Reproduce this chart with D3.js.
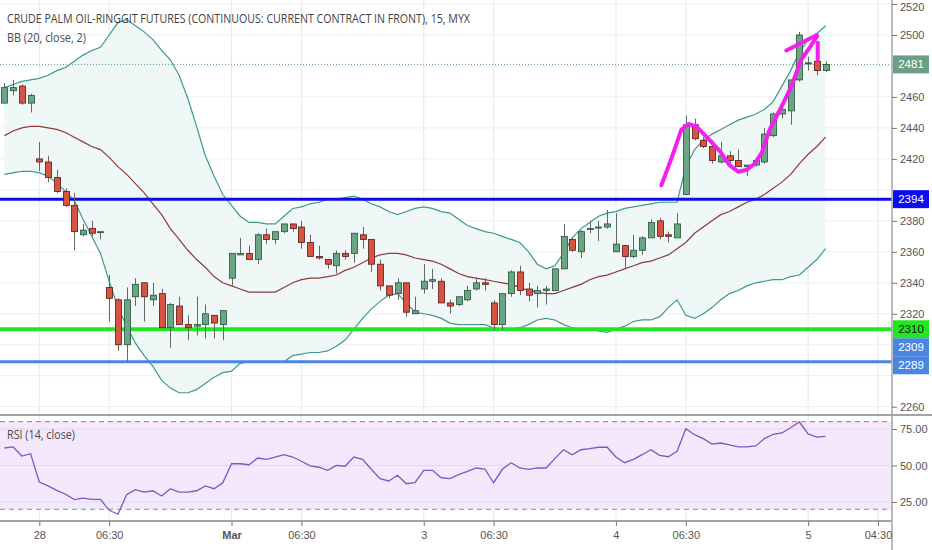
<!DOCTYPE html>
<html>
<head>
<meta charset="utf-8">
<script src="https://cdnjs.cloudflare.com/ajax/libs/d3/7.8.5/d3.min.js"></script>
<style>
  body { margin: 0; background: #fff; }
  svg { display: block; font-family: "Liberation Sans", Arial, sans-serif; }
</style>
</head>
<body>
<div id="chart"></div>
<script>
// 15 minute bars, oldest first (bar index 0..94)
var open  = [2456, 2464, 2467, 2456, 2420, 2418, 2408, 2399, 2390, 2371, 2375, 2373, 2337, 2329, 2300, 2331, 2340, 2329, 2333, 2311,
             2325, 2313, 2312, 2313, 2319, 2313, 2343, 2358, 2359, 2355, 2371, 2368, 2373, 2378, 2376, 2366, 2357, 2355, 2351, 2359,
             2359, 2371, 2368, 2352, 2338, 2333, 2340, 2320, 2336, 2341, 2341, 2327, 2326, 2329, 2336, 2340, 2327, 2313, 2333, 2347,
             2336, 2333, 2335, 2335, 2349, 2368, 2360, 2375, 2376, 2376, 2360, 2364, 2357, 2361, 2369, 2380, 2371, 2369, 2397, 2442,
             2432, 2428, 2418, 2422, 2419, 2415, 2416, 2418, 2435, 2449, 2451, 2471, 2482, 2483, 2477];
var high  = [2469, 2471, 2468, 2462, 2431, 2422, 2413, 2401, 2398, 2378, 2380, 2373, 2345, 2330, 2337, 2343, 2340, 2340, 2336, 2327,
             2331, 2319, 2331, 2326, 2319, 2322, 2359, 2369, 2364, 2372, 2375, 2373, 2378, 2378, 2380, 2371, 2364, 2355, 2361, 2361,
             2372, 2376, 2368, 2355, 2338, 2343, 2340, 2331, 2352, 2349, 2343, 2329, 2331, 2338, 2343, 2343, 2329, 2333, 2348, 2351,
             2340, 2338, 2338, 2349, 2378, 2369, 2374, 2380, 2380, 2387, 2385, 2364, 2371, 2370, 2381, 2382, 2373, 2385, 2448, 2446,
             2434, 2432, 2431, 2425, 2426, 2416, 2421, 2440, 2450, 2456, 2471, 2502, 2486, 2484, 2483];
var low   = [2456, 2461, 2455, 2450, 2412, 2405, 2398, 2389, 2361, 2370, 2370, 2368, 2315, 2296, 2289, 2325, 2315, 2325, 2311, 2298,
             2313, 2303, 2306, 2304, 2304, 2303, 2338, 2358, 2355, 2352, 2365, 2365, 2372, 2373, 2362, 2357, 2355, 2349, 2346, 2355,
             2353, 2362, 2347, 2335, 2330, 2329, 2318, 2320, 2333, 2336, 2327, 2320, 2325, 2328, 2335, 2335, 2309, 2309, 2331, 2332,
             2328, 2324, 2326, 2335, 2349, 2360, 2356, 2372, 2367, 2375, 2360, 2349, 2356, 2358, 2369, 2368, 2366, 2369, 2397, 2432,
             2427, 2417, 2417, 2417, 2415, 2409, 2415, 2417, 2434, 2446, 2442, 2470, 2477, 2474, 2476];
var close = [2466, 2466, 2456, 2461, 2418, 2408, 2399, 2390, 2373, 2374, 2372, 2373, 2330, 2300, 2329, 2339, 2331, 2332, 2311, 2326,
             2313, 2311, 2313, 2320, 2314, 2322, 2359, 2359, 2355, 2371, 2368, 2373, 2378, 2375, 2366, 2357, 2356, 2352, 2359, 2357,
             2372, 2368, 2352, 2338, 2332, 2340, 2321, 2322, 2341, 2342, 2327, 2325, 2331, 2335, 2340, 2339, 2313, 2333, 2347, 2335,
             2332, 2335, 2336, 2349, 2370, 2361, 2373, 2375, 2376, 2378, 2365, 2357, 2361, 2369, 2379, 2370, 2370, 2378, 2442, 2433,
             2428, 2419, 2422, 2419, 2415, 2416, 2419, 2436, 2449, 2452, 2471, 2500, 2482, 2477, 2481];

// bollinger bands (20, close, 2)
var bbUpper = [2466, 2468, 2470, 2471, 2472, 2474, 2477, 2479, 2483, 2487, 2490, 2492, 2500, 2508, 2510, 2506, 2502, 2497, 2490, 2484,
               2474, 2459, 2441, 2422, 2409, 2397, 2390, 2383, 2379, 2379, 2378, 2378, 2383, 2388, 2389, 2391, 2392, 2394, 2394, 2395,
               2396, 2394, 2391, 2389, 2386, 2384, 2386, 2388, 2389, 2388, 2386, 2385, 2381, 2377, 2375, 2373, 2372, 2370, 2368, 2366,
               2360, 2352, 2349, 2351, 2359, 2369, 2375, 2379, 2383, 2385, 2386, 2388, 2389, 2390, 2391, 2392, 2392, 2392, 2415, 2426,
               2432, 2436, 2439, 2442, 2445, 2447, 2449, 2452, 2457, 2467, 2477, 2489, 2497, 2501, 2506];
var bbBasis = [2435, 2438, 2440, 2441, 2441, 2440, 2439, 2437, 2434, 2431, 2428, 2426, 2421, 2415, 2410, 2404, 2398, 2391, 2384, 2375,
               2368, 2361, 2355, 2350, 2344, 2340, 2338, 2336, 2334, 2334, 2334, 2334, 2337, 2340, 2342, 2343, 2343, 2344, 2345, 2348,
               2350, 2353, 2356, 2358, 2359, 2359, 2358, 2356, 2355, 2354, 2352, 2349, 2346, 2344, 2343, 2342, 2341, 2340, 2339, 2337,
               2335, 2334, 2333, 2333, 2335, 2337, 2339, 2342, 2344, 2345, 2347, 2349, 2351, 2353, 2354, 2356, 2358, 2362, 2366, 2372,
               2376, 2380, 2384, 2386, 2389, 2392, 2394, 2397, 2401, 2405, 2410, 2417, 2423, 2428, 2434];
var bbLower = [2410, 2411, 2412, 2412, 2411, 2409, 2404, 2399, 2393, 2381, 2370, 2359, 2341, 2324, 2312, 2301, 2293, 2286, 2277, 2272,
               2269, 2269, 2271, 2275, 2279, 2282, 2283, 2288, 2289, 2289, 2289, 2289, 2289, 2293, 2294, 2295, 2295, 2296, 2299, 2303,
               2310, 2317, 2323, 2328, 2332, 2333, 2327, 2321, 2320, 2319, 2317, 2314, 2313, 2313, 2313, 2313, 2311, 2310, 2310, 2311,
               2313, 2316, 2317, 2316, 2313, 2311, 2310, 2310, 2309, 2308, 2310, 2312, 2315, 2316, 2316, 2318, 2324, 2329, 2319, 2317,
               2320, 2324, 2329, 2333, 2335, 2338, 2340, 2341, 2342, 2342, 2344, 2345, 2350, 2355, 2362];

// rsi (14, close)
var rsi = [62.0, 62.7, 56.5, 58.1, 38.7, 36.0, 33.0, 30.3, 26.7, 27.7, 26.8, 26.8, 19.3, 16.6, 30.0, 33.4, 31.8, 32.7, 29.1, 34.1,
           31.8, 31.8, 32.7, 36.0, 34.1, 38.2, 51.2, 51.2, 50.5, 55.1, 54.2, 55.8, 57.4, 55.8, 52.9, 49.7, 48.8, 46.7, 50.1, 49.5,
           55.8, 54.2, 47.4, 41.0, 39.4, 43.3, 37.5, 38.2, 46.7, 46.7, 41.6, 41.0, 43.7, 46.0, 48.3, 47.6, 38.2, 47.4, 51.9, 48.3,
           47.4, 48.3, 48.3, 54.7, 60.8, 57.4, 60.8, 61.5, 62.5, 62.5, 55.8, 51.9, 54.2, 57.4, 60.8, 57.0, 56.0, 59.7, 75.2, 71.1,
           68.4, 64.7, 65.4, 64.2, 62.7, 62.7, 63.4, 68.4, 71.4, 72.3, 75.9, 79.8, 71.6, 69.5, 70.0];

// axis ticks
var timeTicks = [4, 12, 26, 34, 48, 56, 70, 78, 92, 100];
var timeLabels = ["28", "06:30", "Mar", "06:30", "3", "06:30", "4", "06:30", "5", "04:30"];
var priceTicks = [2260, 2280, 2300, 2320, 2340, 2360, 2380, 2400, 2420, 2440, 2460, 2480, 2500, 2520];
var rsiTicks = [25, 50, 75];
var rsiBands = [80, 20];

// horizontal levels drawn on the chart
var levels = [2394, 2310, 2309, 2289];
var levelColors = ["#0c0cee", "#22e622", "#4a86e0", "#4a86e0"];
var levelWidths = [3, 4, 0, 3];
var levelTextColors = ["#fff", "#111", "#fff", "#fff"];

// hand drawn pattern strokes, [bar, price]
var strokeCup = [[75.2, 2403], [76.4, 2421], [77.5, 2439], [78.3, 2442.5], [79.2, 2441], [80.4, 2434], [81.9, 2425], [83.0, 2416],
                 [84.0, 2411.7], [84.9, 2412.8], [85.9, 2417], [86.7, 2424], [87.6, 2439], [88.8, 2452], [90.1, 2467],
                 [91.2, 2484], [92.2, 2492], [93.0, 2499]];
var strokeTop = [[89.5, 2490], [93.0, 2500]];
var strokeDrop = [[93.1, 2495], [93.1, 2484]];

var width = 932, height = 550;
var plotRight = 892;
var priceBottom = 415;
var rsiTop = 415, rsiBottom = 521;

var svg = d3.select('#chart')
    .append('svg')
    .attr("width", width)
    .attr("height", height);

var x = d3.scaleLinear().domain([-0.5, 101.6]).range([0, plotRight]);
var y = d3.scaleLinear().domain([2260, 2520]).range([406.7, 4]);
var yr = d3.scaleLinear().domain([25, 75]).range([502, 429]);

var idx = d3.range(close.length);
var last = close[close.length - 1];

// clip paths for the two panes
var defs = svg.append("defs");
defs.append("clipPath").attr("id", "clipPrice")
    .append("rect").attr("x", 0).attr("y", 0).attr("width", plotRight).attr("height", priceBottom);
defs.append("clipPath").attr("id", "clipRsi")
    .append("rect").attr("x", 0).attr("y", rsiTop).attr("width", plotRight).attr("height", rsiBottom - rsiTop);

// grid
var grid = svg.append("g");
grid.selectAll(".hgrid")
    .data(priceTicks)
    .enter()
    .append("line")
    .attr("x1", 0).attr("x2", plotRight)
    .attr("y1", function (d) { return y(d); })
    .attr("y2", function (d) { return y(d); })
    .style("stroke", "#eceef1");

// rsi background band
var rsiPane = svg.append("g").attr("clip-path", "url(#clipRsi)");
rsiPane.append("rect")
    .attr("x", 0).attr("width", plotRight)
    .attr("y", yr(rsiBands[0]))
    .attr("height", yr(rsiBands[1]) - yr(rsiBands[0]))
    .style("fill", "#f3e8fc");
rsiPane.selectAll(".rgrid")
    .data(rsiTicks)
    .enter()
    .append("line")
    .attr("x1", 0).attr("x2", plotRight)
    .attr("y1", function (d) { return yr(d); })
    .attr("y2", function (d) { return yr(d); })
    .style("stroke", "#e2d8ee");

grid.selectAll(".vgrid")
    .data(timeTicks)
    .enter()
    .append("line")
    .attr("x1", function (d) { return x(d); })
    .attr("x2", function (d) { return x(d); })
    .attr("y1", 0).attr("y2", rsiBottom)
    .style("stroke", "#e6e8ec");

var pricePane = svg.append("g").attr("clip-path", "url(#clipPrice)");

// bollinger fill and lines
pricePane.append("path")
    .datum(idx)
    .attr("d", d3.area()
        .x(function (i) { return x(i); })
        .y0(function (i) { return y(bbLower[i]); })
        .y1(function (i) { return y(bbUpper[i]); }))
    .style("fill", "#eff7f7");

function bandLine(arr) {
    return d3.line()
        .x(function (i) { return x(i); })
        .y(function (i) { return y(arr[i]); });
}
pricePane.append("path").datum(idx).attr("d", bandLine(bbUpper))
    .style("fill", "none").style("stroke", "#3d9a8b").style("stroke-width", 1.2);
pricePane.append("path").datum(idx).attr("d", bandLine(bbLower))
    .style("fill", "none").style("stroke", "#3d9a8b").style("stroke-width", 1.2);
pricePane.append("path").datum(idx).attr("d", bandLine(bbBasis))
    .style("fill", "none").style("stroke", "#8e3c3c").style("stroke-width", 1.2);

// horizontal levels
pricePane.selectAll(".level")
    .data(levels)
    .enter()
    .append("line")
    .attr("x1", 0).attr("x2", plotRight)
    .attr("y1", function (d) { return y(d); })
    .attr("y2", function (d) { return y(d); })
    .style("stroke", function (d, i) { return levelColors[i]; })
    .style("stroke-width", function (d, i) { return levelWidths[i]; });

// last price dotted line
pricePane.append("line")
    .attr("x1", 0).attr("x2", plotRight)
    .attr("y1", y(last)).attr("y2", y(last))
    .style("stroke", "#5f9c80")
    .style("stroke-dasharray", "1,2");

// candles
var candles = pricePane.selectAll(".candle")
    .data(idx)
    .enter()
    .append("g");
candles.append("line")
    .attr("x1", function (i) { return Math.round(x(i)) + 0.5; })
    .attr("x2", function (i) { return Math.round(x(i)) + 0.5; })
    .attr("y1", function (i) { return y(high[i]); })
    .attr("y2", function (i) { return y(low[i]); })
    .style("stroke", "#666");
candles.append("rect")
    .attr("x", function (i) { return Math.round(x(i)) - 2.5; })
    .attr("width", 6)
    .attr("y", function (i) { return y(Math.max(open[i], close[i])); })
    .attr("height", function (i) { return Math.max(1, Math.abs(y(open[i]) - y(close[i]))); })
    .style("fill", function (i) { return close[i] >= open[i] ? "#6ba583" : "#d75442"; })
    .style("stroke", function (i) { return close[i] >= open[i] ? "#225437" : "#5b1a13"; })
    .style("stroke-width", 0.8);

// hand drawn strokes
var strokeLine = d3.line()
    .x(function (d) { return x(d[0]); })
    .y(function (d) { return y(d[1]); });
[strokeCup, strokeTop, strokeDrop].forEach(function (s) {
    pricePane.append("path")
        .datum(s)
        .attr("d", strokeLine)
        .style("fill", "none")
        .style("stroke", "#f21ff0")
        .style("stroke-width", 4)
        .style("stroke-linecap", "round")
        .style("stroke-linejoin", "round");
});

// rsi bands and line
rsiPane.append("line")
    .attr("x1", 0).attr("x2", plotRight)
    .attr("y1", yr(rsiBands[0])).attr("y2", yr(rsiBands[0]))
    .style("stroke", "#e05c5c").style("stroke-dasharray", "5,4");
rsiPane.append("line")
    .attr("x1", 0).attr("x2", plotRight)
    .attr("y1", yr(rsiBands[1])).attr("y2", yr(rsiBands[1]))
    .style("stroke", "#6e9e88").style("stroke-dasharray", "5,4");
rsiPane.append("path")
    .datum(idx)
    .attr("d", d3.line()
        .x(function (i) { return x(i); })
        .y(function (i) { return yr(rsi[i]); }))
    .style("fill", "none")
    .style("stroke", "#7e57c2")
    .style("stroke-width", 1.3);

// pane separators and right axis line
svg.append("line").attr("x1", 0).attr("x2", width).attr("y1", priceBottom).attr("y2", priceBottom)
    .style("stroke", "#a2a4a8").style("stroke-width", 2);
svg.append("line").attr("x1", 0).attr("x2", plotRight).attr("y1", rsiBottom).attr("y2", rsiBottom)
    .style("stroke", "#a2a4a8").style("stroke-width", 2);
svg.append("line").attr("x1", plotRight).attr("x2", plotRight).attr("y1", 0).attr("y2", height)
    .style("stroke", "#a2a4a8").style("stroke-width", 1.5);

// price labels on the axis, stacked so they do not overlap
var boxH = 18;
var prevY = -100;
var boxes = levels.map(function (v, i) {
    var cy = Math.max(y(v), prevY + boxH);
    prevY = cy;
    return { v: v, cy: cy, fill: levelColors[i], text: levelTextColors[i] };
});
boxes.unshift({ v: last, cy: y(last), fill: "#6b9f84", text: "#fff" });

// price axis, skipping tick labels that sit under a label box
var shownTicks = priceTicks.filter(function (t) {
    return boxes.every(function (b) { return Math.abs(y(t) - b.cy) > 13; });
});
var pAxis = svg.append("g")
    .attr("transform", "translate(" + plotRight + ",0)")
    .call(d3.axisRight(y).tickValues(shownTicks).tickFormat(d3.format("d")).tickSize(5).tickPadding(3));
pAxis.select(".domain").remove();
pAxis.selectAll("line").style("stroke", "#777");
pAxis.selectAll("text").style("font-size", "11px").style("fill", "#555")
    .style("font-family", "Liberation Sans, Arial, sans-serif")
    .attr("dy", function (d) { return d == 2520 ? "0.6em" : "0.32em"; });

// rsi axis
var rAxis = svg.append("g")
    .attr("transform", "translate(" + plotRight + ",0)")
    .call(d3.axisRight(yr).tickValues(rsiTicks).tickFormat(d3.format(".2f")).tickSize(5).tickPadding(3));
rAxis.select(".domain").remove();
rAxis.selectAll("line").style("stroke", "#777");
rAxis.selectAll("text").style("font-size", "11px").style("fill", "#555")
    .style("font-family", "Liberation Sans, Arial, sans-serif");

// time axis
var tAxis = svg.append("g")
    .attr("transform", "translate(0," + rsiBottom + ")")
    .call(d3.axisBottom(x).tickValues(timeTicks)
        .tickFormat(function (d, i) { return timeLabels[i]; })
        .tickSize(5).tickPadding(5));
tAxis.select(".domain").remove();
tAxis.selectAll("line").style("stroke", "#777");
tAxis.selectAll("text").style("font-size", "11px").style("fill", "#555")
    .style("font-family", "Liberation Sans, Arial, sans-serif")
    .style("font-weight", function (d, i) { return timeLabels[i] == "Mar" ? "bold" : "normal"; });

var lab = svg.selectAll(".plabel")
    .data(boxes)
    .enter()
    .append("g");
lab.append("rect")
    .attr("x", plotRight + 1)
    .attr("width", 36)
    .attr("y", function (d) { return d.cy - boxH / 2; })
    .attr("height", boxH)
    .style("fill", function (d) { return d.fill; });
lab.append("text")
    .attr("x", plotRight + 19)
    .attr("y", function (d) { return d.cy; })
    .attr("dy", "0.35em")
    .attr("text-anchor", "middle")
    .style("font-size", "11.5px")
    .style("fill", function (d) { return d.text; })
    .text(function (d) { return d.v; });

// legends
svg.append("text")
    .attr("x", 7).attr("y", 18).attr("dy", "0.35em")
    .attr("textLength", 463).attr("lengthAdjust", "spacingAndGlyphs")
    .style("font-family", "Open Sans, sans-serif")
    .style("font-size", "13.5px")
    .style("fill", "#3f3f3f")
    .text("CRUDE PALM OIL-RINGGIT FUTURES (CONTINUOUS: CURRENT CONTRACT IN FRONT), 15, MYX");
svg.append("text")
    .attr("x", 7).attr("y", 37).attr("dy", "0.35em")
    .attr("textLength", 79).attr("lengthAdjust", "spacingAndGlyphs")
    .style("font-family", "Open Sans, sans-serif")
    .style("font-size", "13.5px")
    .style("fill", "#4a4a4a")
    .text("BB (20, close, 2)");
svg.append("text")
    .attr("x", 7).attr("y", 434).attr("dy", "0.35em")
    .attr("textLength", 68).attr("lengthAdjust", "spacingAndGlyphs")
    .style("font-family", "Open Sans, sans-serif")
    .style("font-size", "13px")
    .style("fill", "#4a4a4a")
    .text("RSI (14, close)");
</script>
</body>
</html>
